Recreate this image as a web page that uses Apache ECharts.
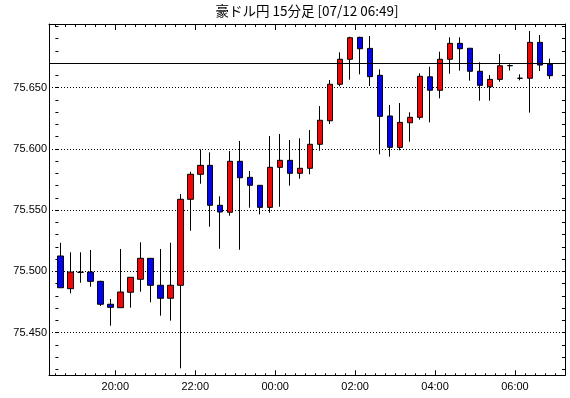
<!DOCTYPE html>
<html>
<head>
<meta charset="utf-8">
<script src="https://cdn.jsdelivr.net/npm/echarts@6/dist/echarts.min.js"></script>
<style>
html,body{margin:0;padding:0;background:#fff;}
#chart{width:570px;height:398px;}
</style>
</head>
<body>
<div id="chart"></div>
<script>
const titleText = '豪ドル円 15分足 [07/12 06:49]';
const times = ['18:30','18:45','19:00','19:15','19:30','19:45','20:00','20:15','20:30','20:45',
  '21:00','21:15','21:30','21:45','22:00','22:15','22:30','22:45','23:00','23:15',
  '23:30','23:45','00:00','00:15','00:30','00:45','01:00','01:15','01:30','01:45',
  '02:00','02:15','02:30','02:45','03:00','03:15','03:30','03:45','04:00','04:15',
  '04:30','04:45','05:00','05:15','05:30','05:45','06:00','06:15','06:30','06:45'];
const opens = [75.5125,75.4858,75.4992,75.4994,75.4918,75.4731,75.4703,75.4829,75.4935,75.5106,
  75.4886,75.4780,75.4886,75.5588,75.5792,75.5865,75.5539,75.5482,75.5898,75.5767,
  75.5702,75.5522,75.5849,75.5906,75.5800,75.5841,75.6037,75.6229,75.6527,75.6731,
  75.6910,75.6820,75.6600,75.6268,75.6012,75.6213,75.6257,75.6588,75.6478,75.6731,
  75.6861,75.6821,75.6633,75.6507,75.6567,75.6678,75.6576,75.6576,75.6869,75.6690];
const closes = [75.4866,75.4994,75.4992,75.4918,75.4731,75.4706,75.4831,75.4951,75.5106,75.4886,
  75.4780,75.4886,75.5588,75.5792,75.5865,75.5539,75.5484,75.5898,75.5764,75.5702,
  75.5522,75.5849,75.5906,75.5800,75.5841,75.6037,75.6233,75.6527,75.6731,75.6907,
  75.6817,75.6589,75.6265,75.6012,75.6216,75.6257,75.6592,75.6478,75.6731,75.6861,
  75.6817,75.6633,75.6518,75.6567,75.6678,75.6680,75.6576,75.6869,75.6684,75.6597];
const lows = [75.4866,75.4820,75.4907,75.4874,75.4717,75.4556,75.4703,75.4703,75.4833,75.4747,
  75.4638,75.4597,75.4208,75.5331,75.5715,75.5364,75.5184,75.5454,75.5176,75.5519,
  75.5465,75.5478,75.5527,75.5699,75.5756,75.5792,75.5984,75.6202,75.6510,75.6564,
  75.6608,75.6513,75.5955,75.5936,75.5988,75.6058,75.6238,75.6216,75.6412,75.6613,
  75.6638,75.6556,75.6393,75.6393,75.6548,75.6639,75.6559,75.6295,75.6635,75.6570];
const highs = [75.5233,75.5155,75.5155,75.5174,75.4923,75.4774,75.5182,75.4951,75.5237,75.5106,
  75.5182,75.5233,75.5631,75.5813,75.5996,75.5971,75.5612,75.5982,75.6064,75.5819,
  75.5702,75.6104,75.6121,75.6072,75.6086,75.6153,75.6349,75.6562,75.6788,75.6915,
  75.6915,75.6921,75.6649,75.6358,75.6374,75.6298,75.6616,75.6670,75.6793,75.6910,
  75.6910,75.6821,75.6706,75.6602,75.6774,75.6690,75.6608,75.6962,75.6929,75.6736];
const refLevel = 75.6678;
const yLabelValues = [75.45, 75.50, 75.55, 75.60, 75.65];
const xLabelValues = [6, 14, 22, 30, 38, 46];
const xLabels = ['20:00', '22:00', '00:00', '02:00', '04:00', '06:00'];

const yMin = 75.4151, yMax = 75.7019;
const xMin = -0.64, xMax = 51.01;
const yMinor = [];
for (let k = 42; k <= 70; k++) yMinor.push(+(75 + k / 100).toFixed(2));
const xMinor = [];
for (let k = 0; k <= 51; k++) xMinor.push(k);

const candleData = times.map((t, i) => [i + 0.5, opens[i], closes[i], lows[i], highs[i]]);

const labelFont = "'Liberation Sans', Arial, sans-serif";
const black = '#000';

function xAx(position, tickVals, tickLen, showLine, showLabel) {
  return {
    type: 'value', position: position, min: xMin, max: xMax, gridIndex: 0,
    axisLine: { show: showLine, onZero: false, lineStyle: { color: black, width: 1 } },
    axisTick: { show: true, inside: true, length: tickLen, customValues: tickVals, lineStyle: { color: black, width: 1 } },
    axisLabel: showLabel ? {
      show: true, customValues: xLabelValues, margin: 6, color: black, fontSize: 11, fontFamily: labelFont,
      formatter: v => { const j = xLabelValues.indexOf(Math.round(v)); return j >= 0 ? xLabels[j] : ''; }
    } : { show: false },
    splitLine: { show: false }
  };
}

const chart = echarts.init(document.getElementById('chart'), null, { renderer: 'canvas' });
chart.setOption({
  animation: false,
  backgroundColor: '#fff',
  title: {
    text: titleText, left: 307, top: 3, padding: 0, textAlign: 'center',
    textStyle: { fontSize: 13.5, lineHeight: 16, fontWeight: 'normal', color: black, fontFamily: "'Noto Sans CJK JP', sans-serif" }
  },
  grid: { left: 49, right: 5, top: 24, bottom: 22.7, containLabel: false },
  xAxis: [
    xAx('bottom', xMinor, 2, true, true),
    xAx('bottom', xLabelValues, 5, false, false),
    xAx('top', xMinor, 3, true, false),
    xAx('top', xLabelValues, 6, false, false)
  ],
  yAxis: [
    {
      type: 'value', position: 'left', min: yMin, max: yMax,
      axisLine: { show: true, onZero: false, lineStyle: { color: black, width: 1 } },
      axisTick: { show: false, customValues: yLabelValues },
      axisLabel: { show: true, customValues: yLabelValues, margin: 2, color: black, fontSize: 11, fontFamily: labelFont,
        formatter: v => v.toFixed(3) },
      splitLine: { show: true, lineStyle: { color: black, width: 1, type: [1, 2] } }
    },
    {
      type: 'value', position: 'left', min: yMin, max: yMax,
      axisLine: { show: false },
      axisTick: { show: true, inside: true, length: 3, customValues: yMinor, lineStyle: { color: black } },
      axisLabel: { show: false }, splitLine: { show: false }
    },
    {
      type: 'value', position: 'right', min: yMin, max: yMax,
      axisLine: { show: true, onZero: false, lineStyle: { color: black, width: 1 } },
      axisTick: { show: true, inside: true, length: 3, customValues: yMinor, lineStyle: { color: black } },
      axisLabel: { show: false }, splitLine: { show: false }
    }
  ],
  series: [{
    type: 'candlestick',
    xAxisIndex: 0, yAxisIndex: 0,
    barWidth: 6,
    data: candleData,
    itemStyle: {
      color: '#ff0000', color0: '#0000ff',
      borderColor: black, borderColor0: black, borderColorDoji: black, borderWidth: 1
    },
    markLine: {
      silent: true, symbol: ['none', 'none'],
      label: { show: false },
      lineStyle: { color: black, width: 1, type: 'solid' },
      data: [{ yAxis: refLevel }]
    }
  }]
});
</script>
</body>
</html>
